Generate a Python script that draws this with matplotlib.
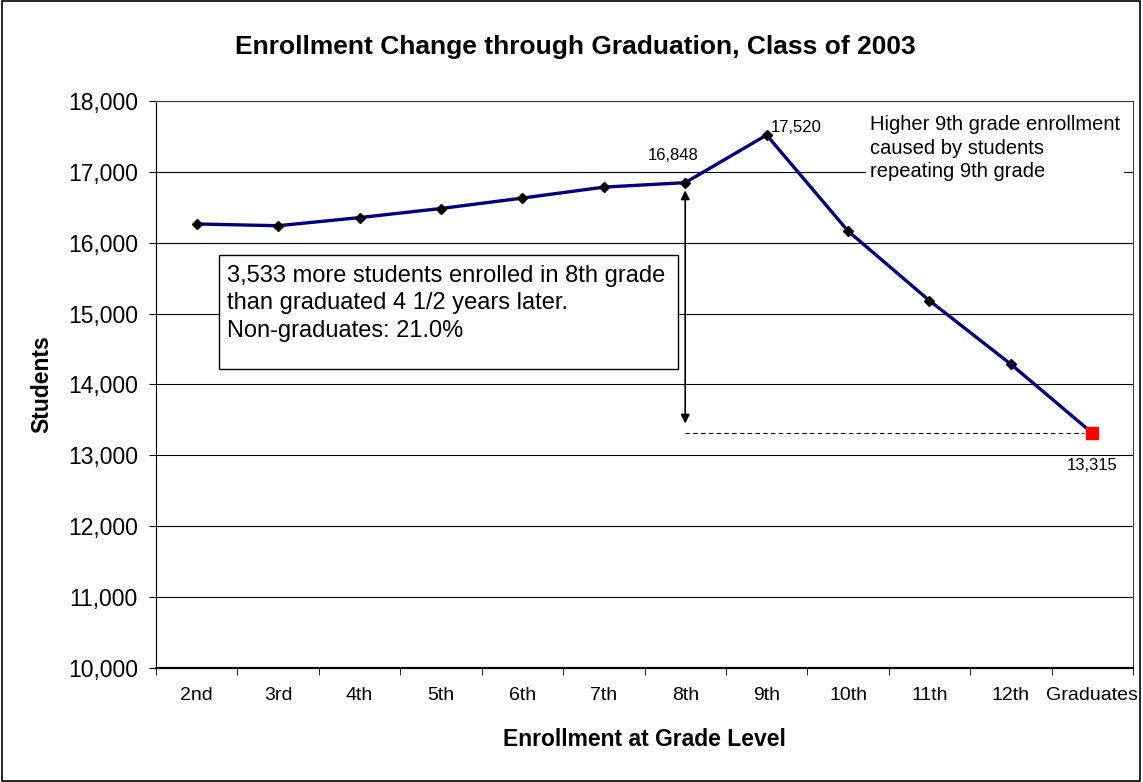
import matplotlib
matplotlib.use("Agg")
import matplotlib.pyplot as plt
from matplotlib.ticker import FuncFormatter, FixedLocator
from matplotlib.patches import Rectangle

plt.rcParams['font.family'] = ['Liberation Sans', 'DejaVu Sans']

grades = ["2nd", "3rd", "4th", "5th", "6th", "7th", "8th", "9th", "10th", "11th", "12th", "Graduates"]
students = [16265, 16240, 16355, 16483, 16630, 16785, 16848, 17520, 16165, 15183, 14286, 13315]
y_ticks = [10000, 11000, 12000, 13000, 14000, 15000, 16000, 17000, 18000]

W, H = 1143, 782
fig = plt.figure(figsize=(W / 100, H / 100), dpi=100)
AX_L, AX_R, AX_T, AX_B = 156, 1133, 101, 668
ax = fig.add_axes([AX_L / W, 1 - AX_B / H, (AX_R - AX_L) / W, (AX_B - AX_T) / H])


def fx(px):
    return px / W


def fy(py):
    return 1 - py / H


x = list(range(len(grades)))
ax.plot(x[:-1], students[:-1], color='#000080', lw=2.4, marker='D', ms=5.5,
        mfc='black', mec='black', zorder=3)
ax.plot(x[-2:], students[-2:], color='#000080', lw=2.4, zorder=3)
ax.plot(x[-1], students[-1], marker='s', ms=8, color='red', ls='none', zorder=4)

ax.set_xlim(-0.5, len(grades) - 0.5)
ax.set_ylim(10000, 18000)
ax.yaxis.set_major_locator(FixedLocator(y_ticks))
ax.yaxis.set_major_formatter(FuncFormatter(lambda v, p: f"{int(v):,}"))
ax.grid(axis='y', color='black', lw=0.8, zorder=0)
ax.set_xticks(x)
ax.set_xticklabels(grades, fontsize=14)
ax.set_xticks([i - 0.5 for i in range(len(grades) + 1)], minor=True)
ax.tick_params(axis='x', which='major', length=0, pad=14)
ax.tick_params(axis='x', which='minor', length=5, direction='out')
ax.tick_params(axis='y', length=5, direction='out', labelsize=16.5, pad=8)
for s in ['top', 'right']:
    ax.spines[s].set_color('#404040')
ax.spines['bottom'].set_linewidth(1.6)

ax.set_xlabel("Enrollment at Grade Level", fontsize=16.5, fontweight='bold', va='center')
ax.xaxis.set_label_coords(0.5, -(739 - AX_B) / (AX_B - AX_T))
ax.set_ylabel("Students", fontsize=16.5, fontweight='bold', va='center')
ax.yaxis.set_label_coords(-(AX_L - 42) / (AX_R - AX_L), 0.5)
fig.text(0.503, fy(47), "Enrollment Change through Graduation, Class of 2003",
         ha='center', va='center', fontsize=19, fontweight='bold')

# data labels
i8 = grades.index("8th")
i9 = grades.index("9th")
ig = len(grades) - 1
ax.annotate(f"{students[i8]:,}", (x[i8], students[i8]), xytext=(-12, 27),
            textcoords='offset pixels', ha='center', va='center', fontsize=12)
ax.annotate(f"{students[i9]:,}", (x[i9], students[i9]), xytext=(4, 8),
            textcoords='offset pixels', ha='left', va='center', fontsize=12)
ax.annotate(f"{students[ig]:,}", (x[ig], students[ig]), xytext=(0, -32),
            textcoords='offset pixels', ha='center', va='center', fontsize=12)

# gap marker
ax.plot([x[i8], x[ig] - 0.1], [students[ig], students[ig]], ls=(0, (4, 3)), color='black', lw=0.8, zorder=2)
ax.annotate("", xy=(x[i8], students[i8] - 70), xytext=(x[i8], 13410),
            arrowprops=dict(arrowstyle='<|-|>', color='black', lw=1.2, mutation_scale=13), zorder=2)

# text box
fig.patches.append(Rectangle((fx(219), fy(369)), fx(678) - fx(219), fy(255) - fy(369),
                             transform=fig.transFigure, fc='white', ec='black', lw=1, zorder=5))
fig.text(fx(227), fy(265), "3,533 more students enrolled in 8th grade\nthan graduated 4 1/2 years later.\nNon-graduates: 21.0%",
         fontsize=17, va='top', ha='left', linespacing=1.32, zorder=6)

fig.text(fx(870), fy(115), "Higher 9th grade enrollment\ncaused by students\nrepeating 9th grade",
         fontsize=14.5, va='top', ha='left', linespacing=1.3, zorder=6,
         bbox=dict(boxstyle='square,pad=0.2', fc='white', ec='none'))

fig.patches.append(Rectangle((fx(1.5), fy(780.5)), fx(1140) - fx(1.5), fy(1.5) - fy(780.5),
                             transform=fig.transFigure, fill=False, ec='black', lw=1.2))

fig.savefig("out.png", dpi=100)
